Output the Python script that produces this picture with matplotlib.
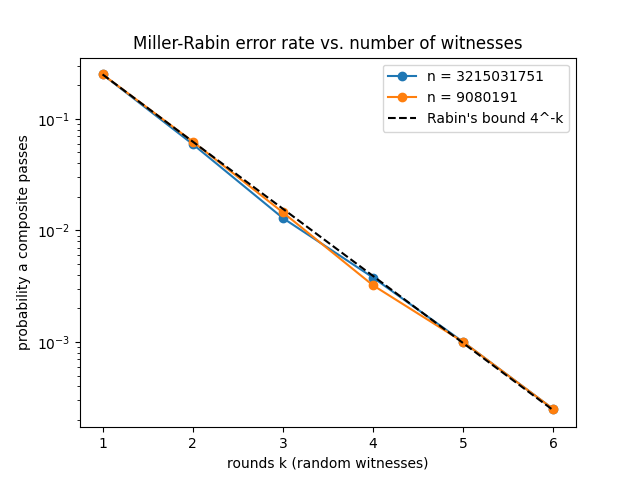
import numpy as np
import matplotlib
matplotlib.use("Agg")
import matplotlib.pyplot as plt

# Rounds and measured pass rates
rounds = [1, 2, 3, 4, 5, 6]
rate_n1 = [0.25, 0.0593, 0.0129, 0.00378, 0.001, 0.00025]
rate_n2 = [0.25, 0.0626, 0.0145, 0.00322, 0.001, 0.00025]
bound = [4.0 ** -k for k in rounds]

fig, ax = plt.subplots(figsize=(6.4, 4.8), dpi=100)
ax.plot(rounds, rate_n1, marker="o", label="n = 3215031751")
ax.plot(rounds, rate_n2, marker="o", label="n = 9080191")
ax.plot(rounds, bound, "k--", label="Rabin's bound 4^-k")
ax.set_yscale("log")
ax.set_xlabel("rounds k (random witnesses)")
ax.set_ylabel("probability a composite passes")
ax.set_title("Miller-Rabin error rate vs. number of witnesses")
ax.legend()
fig.savefig("out.png")
